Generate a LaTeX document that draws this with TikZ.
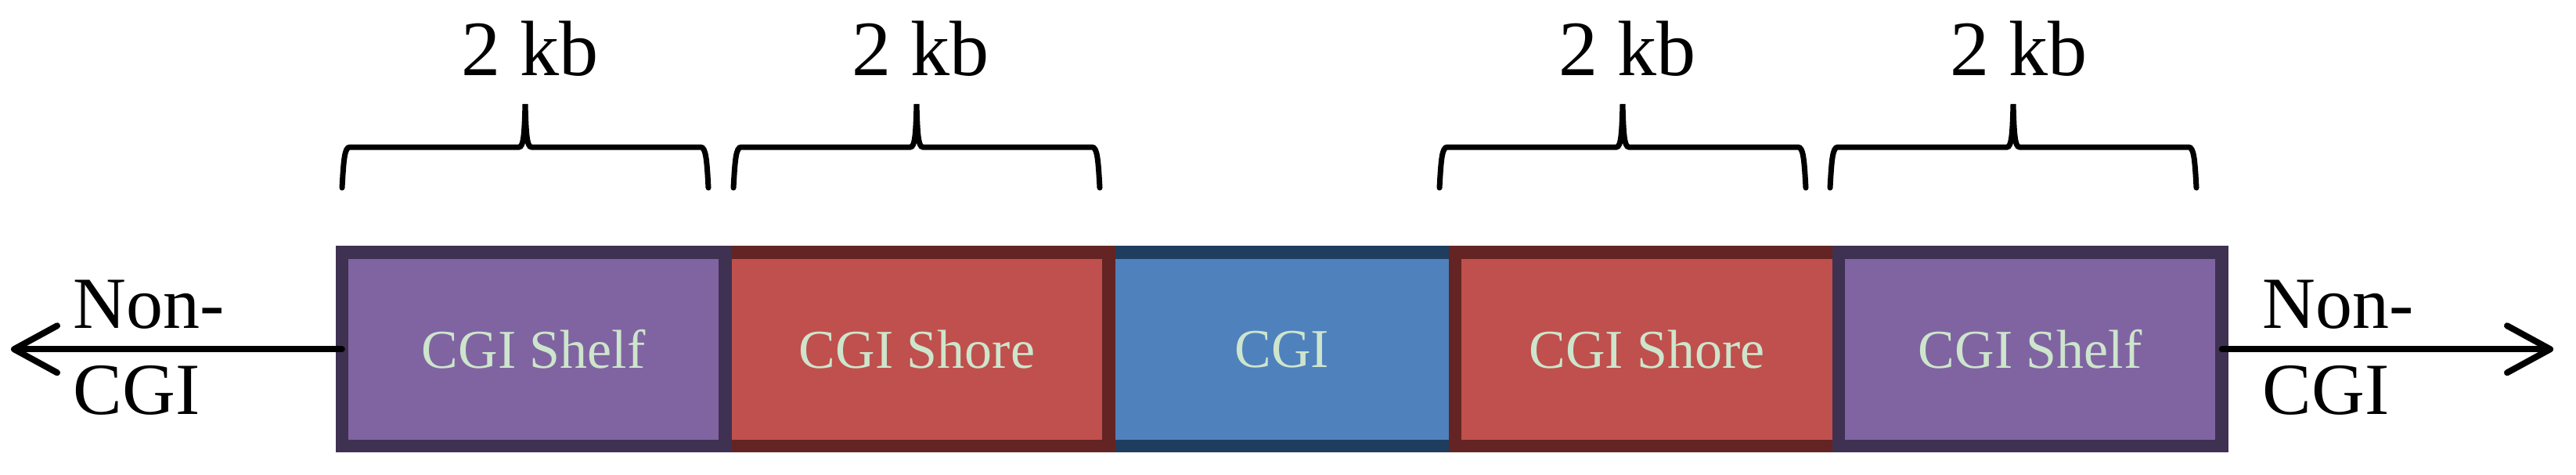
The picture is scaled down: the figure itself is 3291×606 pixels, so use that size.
\documentclass[tikz,border=0pt]{standalone}
\usepackage{fontspec}
\setmainfont{Liberation Serif}
\usetikzlibrary{positioning, arrows.meta}
\definecolor{shelffill}{RGB}{128,100,162}
\definecolor{shelfline}{RGB}{63,49,81}
\definecolor{shorefill}{RGB}{192,80,77}
\definecolor{shoreline}{RGB}{99,36,35}
\definecolor{cgifill}{RGB}{79,129,189}
\definecolor{cgiline}{RGB}{31,62,95}
\definecolor{boxtext}{RGB}{205,229,204}
\newcommand{\kbbrace}[3]{\draw[line width=0.07cm, line cap=round]
  (#1,240) .. controls ({#1+2},205) and ({#1+3},188) .. ({#1+10},188) -- ({#2-8},188)
  .. controls ({#2-2},188) and ({#2-1},170) .. (#2,133)
  .. controls ({#2+1},170) and ({#2+2},188) .. ({#2+8},188) -- ({#3-10},188)
  .. controls ({#3-3},188) and ({#3-2},205) .. (#3,240);}

\begin{document}
\begin{tikzpicture}[x=0.01cm,y=-0.01cm,node distance=0pt,
    seg/.style={draw,line width=0.165cm,outer sep=0pt,inner sep=0pt,minimum height=2.475cm,
      text=boxtext,font=\fontsize{19.9pt}{24pt}\selectfont},
    shelf/.style={seg,fill=shelffill,draw=shelfline,minimum width=4.895cm},
    shore/.style={seg,fill=shorefill,draw=shoreline,minimum width=4.895cm},
    island/.style={seg,fill=cgifill,draw=cgiline,minimum width=4.425cm},
    kb/.style={anchor=base,font=\fontsize{28.5pt}{34pt}\selectfont},
    side/.style={align=left,inner sep=0pt,anchor=north west,font=\fontsize{26.7pt}{31.3pt}\selectfont},
    arr/.style={-{Straight Barb[length=0.55cm,width=0.6cm,round]},line width=0.08cm,line cap=round}]
  \useasboundingbox (0,0) rectangle (3291,606);
  \node[island] (cgi) at (1637.75,446.25) {CGI};
  \node[shore,left=of cgi] (shoreL) {CGI Shore};
  \node[shelf,left=of shoreL] (shelfL) {CGI Shelf};
  \node[shore,right=of cgi] (shoreR) {CGI Shore};
  \node[shelf,right=of shoreR] (shelfR) {CGI Shelf};
  \coordinate (endL) at (14,446.25);
  \coordinate (endR) at (3262,446.25);
  \draw[arr] (shelfL.west) -- (endL);
  \draw[arr] (shelfR.east) -- (endR);
  \node[side] (nonL) at (93,357) {Non-\\CGI};
  \node[side] (nonR) at (2890,357) {Non-\\CGI};
  \node[kb] (kbA) at (677,97) {2 kb};
  \node[kb] (kbB) at (1176,97) {2 kb};
  \node[kb] (kbC) at (2079,97) {2 kb};
  \node[kb] (kbD) at (2579,97) {2 kb};
  \kbbrace{437}{671}{905}
  \kbbrace{937}{1171}{1405}
  \kbbrace{1839}{2073}{2307}
  \kbbrace{2338}{2572}{2806}
\end{tikzpicture}
\end{document}
